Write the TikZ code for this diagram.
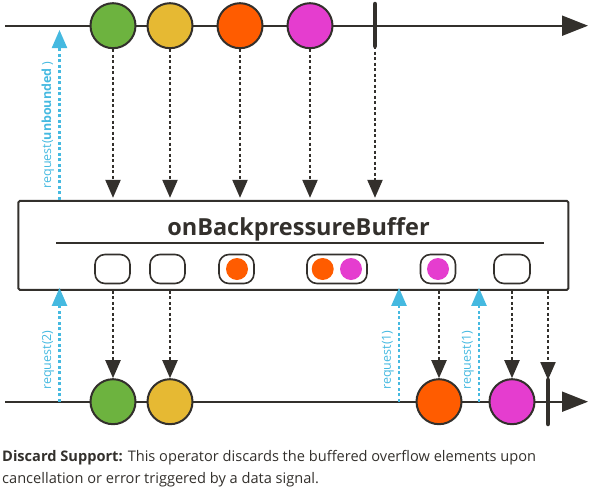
\documentclass[tikz,border=0pt]{standalone}
\usepackage{fontspec}
\setmainfont{Open Sans}
\usetikzlibrary{arrows.meta}
\definecolor{dk}{HTML}{33302C}
\definecolor{mgreen}{HTML}{6DB33F}
\definecolor{myellow}{HTML}{E6B933}
\definecolor{morange}{HTML}{FF5C00}
\definecolor{mmagenta}{HTML}{E53DCF}
\definecolor{reqblue}{HTML}{45B9E0}
\begin{document}
\begin{tikzpicture}[x=1pt,y=-1pt,
  timeline/.style={draw=dk, line width=2pt, -{Triangle[length=26pt,width=20pt]}},
  marble/.style={circle, draw=dk, line width=2pt, minimum size=45pt, inner sep=0pt},
  dotarrow/.style={draw=dk, line width=2.2pt, dash pattern=on 3pt off 2.5pt, -{Triangle[length=18pt,width=15pt]}},
  reqarrow/.style={draw=reqblue, line width=2.2pt, dash pattern=on 3pt off 2.5pt, -{Triangle[length=18pt,width=15pt]}},
  slot/.style={draw=dk, line width=1.6pt, rounded corners=10pt, minimum height=29pt, inner sep=0pt},
  bdot/.style={circle, minimum size=22pt, inner sep=0pt},
  endbar/.style={draw=dk, line width=4.5pt, line cap=round},
  reqlabel/.style={rotate=90, text=reqblue, font=\fontsize{12.5}{12.5}\selectfont}
]
\useasboundingbox (0,0) rectangle (595,490);

% top timeline
\coordinate (ta) at (5,25.7);
\coordinate (tb) at (588,25.7);
\draw[timeline] (ta) -- (tb);
\coordinate (tea) at (375,4);
\coordinate (teb) at (375,46);
\draw[endbar] (tea) -- (teb);
\node[marble, fill=mgreen] (t1) at (113,25.7) {};
\node[marble, fill=myellow] (t2) at (170,25.7) {};
\node[marble, fill=morange] (t3) at (240,25.7) {};
\node[marble, fill=mmagenta] (t4) at (310,25.7) {};

% operator box
\node[draw=dk, line width=2pt, rounded corners=1.5pt, minimum width=550pt, minimum height=89pt, inner sep=0pt] (box) at (293.35,245.35) {};
\node[anchor=base, text=dk, font=\fontsize{23.5}{23.5}\selectfont\bfseries] (title) at (298.5,235.5) {onBackpressureBuffer};
\coordinate (ua) at (56,243.3);
\coordinate (ub) at (543.7,243.3);
\draw[dk, line width=2pt] (ua) -- (ub);

% buffer slots
\node[slot, minimum width=35pt] (s1) at (112.5,269) {};
\node[slot, minimum width=35pt] (s2) at (167.5,269) {};
\node[slot, minimum width=35pt] (s3) at (236.5,269) {};
\node[slot, minimum width=60pt] (s4) at (337,269) {};
\node[slot, minimum width=35pt] (s5) at (438,269) {};
\node[slot, minimum width=36pt] (s6) at (512,269) {};
\node[bdot, fill=morange] (d3) at (237,269) {};
\node[bdot, fill=morange] (d4a) at (322.7,269) {};
\node[bdot, fill=mmagenta] (d4b) at (351,269) {};
\node[bdot, fill=mmagenta] (d5) at (438,269) {};

% top dotted arrows
\draw[dotarrow] (t1.south) -- ([yshift=2pt]t1.south |- box.north);
\draw[dotarrow] (t2.south) -- ([yshift=2pt]t2.south |- box.north);
\draw[dotarrow] (t3.south) -- ([yshift=2pt]t3.south |- box.north);
\draw[dotarrow] (t4.south) -- ([yshift=2pt]t4.south |- box.north);
\draw[dotarrow] (teb) -- ([yshift=2pt]teb |- box.north);

% top request
\coordinate (ru) at (59.5,30);
\draw[reqarrow] (ru |- box.north) -- (ru);
\node[reqlabel] (lu) at (48,125) {request(\textbf{unbounded} )};

% bottom timeline
\coordinate (ba) at (5,401.7);
\coordinate (bb) at (588,401.7);
\draw[timeline] (ba) -- (bb);
\coordinate (bea) at (548,380);
\coordinate (beb) at (548,424);
\draw[endbar] (bea) -- (beb);
\node[marble, fill=mgreen] (b1) at (113,401.7) {};
\node[marble, fill=myellow] (b2) at (170,401.7) {};
\node[marble, fill=morange] (b3) at (439,401.7) {};
\node[marble, fill=mmagenta] (b4) at (512,401.7) {};

% bottom dotted arrows
\draw[dotarrow] (b1.north |- box.south) -- (b1.north);
\draw[dotarrow] (b2.north |- box.south) -- (b2.north);
\draw[dotarrow] (b3.north |- box.south) -- (b3.north);
\draw[dotarrow] (b4.north |- box.south) -- (b4.north);
\draw[dotarrow] (bea |- box.south) -- (bea);

% bottom requests
\coordinate (r2) at (59.5,401.7);
\coordinate (r1a) at (399,401.7);
\coordinate (r1b) at (479,401.7);
\draw[reqarrow] (r2) -- ([yshift=3pt]r2 |- box.south);
\draw[reqarrow] (r1a) -- ([yshift=3pt]r1a |- box.south);
\draw[reqarrow] (r1b) -- ([yshift=3pt]r1b |- box.south);
\node[reqlabel] (l2) at (48,360) {request(2)};
\node[reqlabel] (l1a) at (388,360) {request(1)};
\node[reqlabel] (l1b) at (468,360) {request(1)};

% note
\node[anchor=base west, text=dk, font=\fontsize{14.6}{14.6}\selectfont, inner sep=0pt] (n1) at (2,461.7) {\textbf{Discard Support:} This operator discards the buffered overflow elements upon};
\node[anchor=base west, text=dk, font=\fontsize{14.6}{14.6}\selectfont, inner sep=0pt] (n2) at (2,483.3) {cancellation or error triggered by a data signal.};
\end{tikzpicture}
\end{document}
